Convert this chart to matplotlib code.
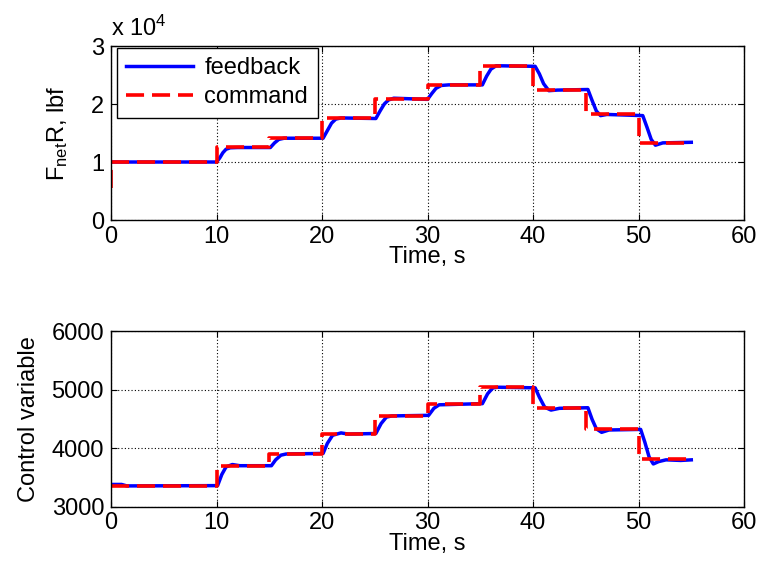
import matplotlib
matplotlib.use("Agg")
import matplotlib.pyplot as plt
from matplotlib.ticker import FuncFormatter

plt.rcParams['font.family'] = ['Liberation Sans', 'DejaVu Sans']
plt.rcParams['mathtext.default'] = 'regular'

# ---------------- data: top panel (FnetR, lbf) ----------------
cmd_top_t = [0, 0, 10, 15, 20, 25, 30, 35, 40, 45, 50, 55]
cmd_top_v = [5500, 10000, 12600, 14100, 17600, 20900, 23200, 26600, 22500, 18200, 13200, 13200]

fb_top_t = [0, 10.0, 10.3, 10.6, 10.9, 11.3, 12.0, 15.1, 15.5, 15.9, 16.4, 20.1,
            20.5, 20.9, 21.3, 21.8, 25.1, 25.5, 25.9, 26.3, 26.8, 30.0, 30.4,
            30.8, 31.3, 32.0, 35.2, 35.6, 36.0, 36.5, 40.2, 40.6, 41.0, 41.5,
            42.3, 45.2, 45.6, 46.0, 46.4, 47.0, 50.4, 50.8, 51.2, 51.6, 52.3, 55.0]
fb_top_v = [10000, 10000, 10700, 11600, 12200, 12450, 12500, 12500, 13300, 13900, 14100, 14100,
            15400, 16700, 17400, 17600, 17500, 18800, 20000, 20700, 21000, 20800, 21800,
            22700, 23200, 23300, 23300, 24800, 26000, 26600, 26500, 25200, 23500, 22300,
            22400, 22500, 20600, 18800, 18000, 18200, 18000, 16000, 13900, 12900, 13300, 13400]

# ---------------- data: bottom panel (control variable) ----------------
cmd_bot_t = [0, 10, 15, 20, 25, 30, 35, 40, 45, 50, 55]
cmd_bot_v = [3350, 3700, 3900, 4240, 4550, 4750, 5040, 4690, 4330, 3810, 3810]

fb_bot_t = [0, 1.0, 1.5, 10.1, 10.5, 10.9, 11.5, 12.2, 15.2, 15.6, 16.1, 16.6,
            20.1, 20.5, 21.0, 21.8, 22.5, 25.1, 25.6, 26.1, 26.6, 30.1, 30.6,
            31.1, 35.2, 35.7, 36.2, 36.7, 40.2, 40.6, 41.1, 41.7, 42.5, 45.2,
            45.6, 46.0, 46.5, 47.2, 50.2, 50.6, 51.0, 51.4, 51.9, 52.6, 54.0, 55.0]
fb_bot_v = [3380, 3380, 3355, 3360, 3550, 3680, 3720, 3700, 3700, 3800, 3880, 3900,
            3910, 4080, 4220, 4260, 4240, 4250, 4420, 4530, 4550, 4560, 4680,
            4740, 4760, 4930, 5030, 5040, 5030, 4870, 4700, 4650, 4680, 4690,
            4490, 4330, 4270, 4310, 4320, 4100, 3850, 3730, 3770, 3800, 3790, 3800]

x_ticks = [0, 10, 20, 30, 40, 50, 60]
top_yticks = [0, 10000, 20000, 30000]
bot_yticks = [3000, 4000, 5000, 6000]

FS = 17
BLUE = '#0000ff'
RED = '#ff0000'

fig = plt.figure(figsize=(7.6, 5.71), dpi=100)
ax1 = fig.add_axes([0.1461, 0.6147, 0.8329, 0.3047])
ax2 = fig.add_axes([0.1461, 0.1126, 0.8329, 0.3077])


def style(ax):
    ax.set_xlim(0, 60)
    ax.set_xticks(x_ticks)
    ax.grid(True, color='black', linestyle=(0, (1, 2)), linewidth=0.8)
    ax.tick_params(direction='in', top=True, right=True, length=4,
                   width=0.8, labelsize=FS)
    ax.tick_params(axis='x', pad=4)
    ax.tick_params(axis='y', pad=5)
    for s in ax.spines.values():
        s.set_linewidth(1.0)
    ax.set_xlabel('Time, s', fontsize=FS, labelpad=-1)


# top
ax1.plot(fb_top_t, fb_top_v, color=BLUE, lw=2.5, label='feedback')
ax1.plot(cmd_top_t, cmd_top_v, color=RED, lw=2.6, drawstyle='steps-post',
         dashes=(5, 2.2), label='command')
style(ax1)
ax1.set_ylim(0, 30000)
ax1.set_yticks(top_yticks)
ax1.yaxis.set_major_formatter(FuncFormatter(lambda v, p: '%d' % round(v / 1e4)))
ax1.set_ylabel(r'F$_{net}$R, lbf', fontsize=FS, labelpad=15)
ax1.text(0.0, 1.03, r'x 10$^{4}$', transform=ax1.transAxes, fontsize=FS,
         ha='left', va='bottom')
leg = ax1.legend(loc='upper left', bbox_to_anchor=(0.0095, 0.99),
                 borderaxespad=0, fontsize=FS, handlelength=2.8,
                 fancybox=False, framealpha=1, edgecolor='black',
                 labelspacing=0.3, borderpad=0.4, handletextpad=0.5)
leg.get_frame().set_linewidth(1.0)

# bottom
ax2.plot(fb_bot_t, fb_bot_v, color=BLUE, lw=2.5)
ax2.plot(cmd_bot_t, cmd_bot_v, color=RED, lw=2.6, drawstyle='steps-post',
         dashes=(5, 2.2))
style(ax2)
ax2.set_ylim(3000, 6000)
ax2.set_yticks(bot_yticks)
ax2.set_ylabel('Control variable', fontsize=FS, labelpad=8)

fig.savefig('out.png', dpi=100)
